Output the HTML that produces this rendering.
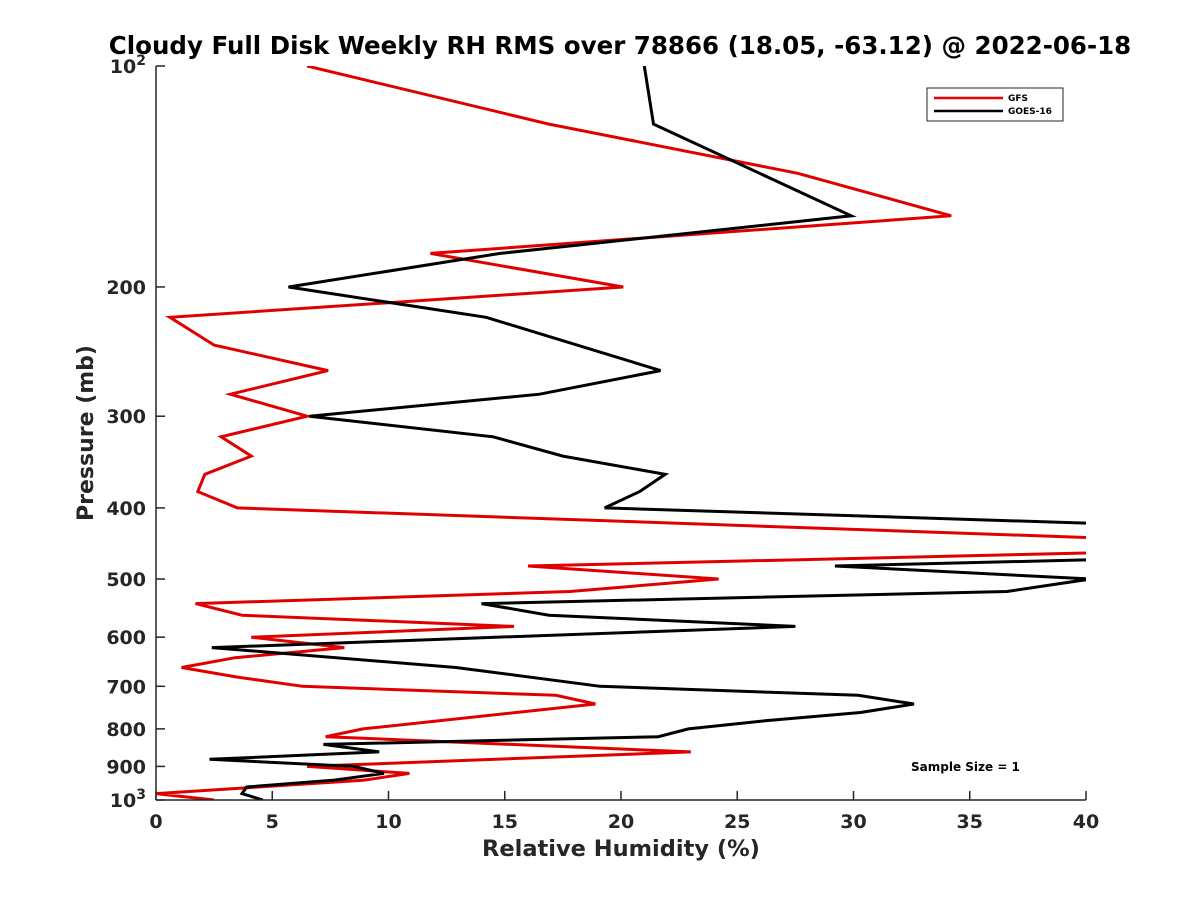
<!DOCTYPE html>
<html><head><meta charset="utf-8"><style>
body{margin:0;background:#fff}
svg{display:block;font-family:"DejaVu Sans","Liberation Sans",sans-serif}
</style></head><body>
<svg id="chart" width="1200" height="900" viewBox="0 0 1200 900">
<rect width="1200" height="900" fill="#fff"/>
<text x="620" y="54" text-anchor="middle" font-size="24.5" font-weight="bold" fill="#000">Cloudy Full Disk Weekly RH RMS over 78866 (18.05, -63.12) @ 2022-06-18</text>
<defs><clipPath id="plotclip"><rect x="156" y="66" width="930" height="734"/></clipPath></defs>
<g id="ticks"></g>
<g id="series" clip-path="url(#plotclip)"></g>
<line x1="156" y1="66" x2="156" y2="800" stroke="#262626" stroke-width="1.5"/>
<line x1="156" y1="800" x2="1086" y2="800" stroke="#262626" stroke-width="1.5"/>
<text x="621" y="856" text-anchor="middle" font-size="22.5" font-weight="bold" fill="#262626">Relative Humidity (%)</text>
<text transform="translate(93,433) rotate(-90)" text-anchor="middle" font-size="22" font-weight="bold" fill="#262626">Pressure (mb)</text>
<g>
<rect x="927" y="88" width="136" height="33" fill="#fff" stroke="#262626" stroke-width="1"/>
<line x1="934" y1="98" x2="1003" y2="98" stroke="#e00" stroke-width="2.5"/>
<text x="1008" y="101" font-size="9" font-weight="bold">GFS</text>
<line x1="934" y1="111" x2="1003" y2="111" stroke="#000" stroke-width="2.5"/>
<text x="1008" y="114" font-size="9" font-weight="bold">GOES-16</text>
</g>
<text x="911" y="771" font-size="12" font-weight="bold" fill="#000">Sample Size = 1</text>
</svg>
<script>
const xTicks=[0,5,10,15,20,25,30,35,40];
const yTicks=[100,200,300,400,500,600,700,800,900,1000];
const yTickLabels=["10^2","200","300","400","500","600","700","800","900","10^3"];
const gfsPressure=[100,120,140,160,180,200,220,240,260,280,300,320,340,360,380,400,440,460,480,500,520,540,560,580,600,620,640,660,680,700,720,740,800,820,860,900,920,940,980,1000];
const gfsRH=[6.5,16.9,27.6,34.2,11.8,20.1,0.6,2.5,7.4,3.2,6.5,2.8,4.1,2.1,1.8,3.5,41,41,16.0,24.2,17.8,1.7,3.7,15.4,4.1,8.1,3.4,1.1,3.5,6.3,17.2,18.9,8.9,7.3,23.0,6.5,10.9,8.9,0,2.5];
const goesPressure=[100,120,160,180,200,220,260,280,300,320,340,360,380,400,420,470,480,500,520,540,560,580,620,660,700,720,740,760,780,800,820,840,860,880,900,920,940,960,980,1000];
const goesRH=[21.0,21.4,29.9,14.8,5.7,14.2,21.7,16.5,6.6,14.5,17.5,21.9,20.8,19.3,40.5,41,29.2,40.2,36.6,14.0,16.9,27.5,2.4,12.9,19.1,30.2,32.6,30.3,26.2,22.9,21.6,7.2,9.6,2.3,8.5,9.8,7.6,3.9,3.7,4.6];

const X0=156,X1=1086,Y0=66,Y1=800;
const xs=v=>X0+(v-0)/40*(X1-X0);
const ys=p=>Y0+(Math.log10(p)-2)*(Y1-Y0);
const NS="http://www.w3.org/2000/svg";
const tg=document.getElementById('ticks');
xTicks.forEach(t=>{
  const l=document.createElementNS(NS,'line');
  l.setAttribute('x1',xs(t));l.setAttribute('x2',xs(t));l.setAttribute('y1',800);l.setAttribute('y2',791);
  l.setAttribute('stroke','#262626');l.setAttribute('stroke-width','1.5');
  
  
  tg.appendChild(l);
  const tx=document.createElementNS(NS,'text');
  tx.setAttribute('x',xs(t));tx.setAttribute('y',828);tx.setAttribute('text-anchor','middle');
  tx.setAttribute('font-size','19');tx.setAttribute('font-weight','bold');tx.setAttribute('fill','#262626');
  tx.textContent=t;
  
  
  tg.appendChild(tx);
});
yTicks.forEach((p,i)=>{
  const y=ys(p);
  const l=document.createElementNS(NS,'line');
  l.setAttribute('x1',156);l.setAttribute('x2',165);l.setAttribute('y1',y);l.setAttribute('y2',y);
  l.setAttribute('stroke','#262626');l.setAttribute('stroke-width','1.5');
  
  
  tg.appendChild(l);
  const tx=document.createElementNS(NS,'text');
  tx.setAttribute('x',146);tx.setAttribute('y',y+7);tx.setAttribute('text-anchor','end');
  tx.setAttribute('font-size','19');tx.setAttribute('font-weight','bold');tx.setAttribute('fill','#262626');
  const lab=yTickLabels[i];
  if(lab.indexOf('^')>=0){
    const parts=lab.split('^');
    tx.textContent=parts[0];
    const sp=document.createElementNS(NS,'tspan');
    sp.setAttribute('dy','-8');sp.setAttribute('font-size','14');
    sp.textContent=parts[1];
    tx.appendChild(sp);
  } else tx.textContent=lab;
  
  
  tg.appendChild(tx);
});
const sg=document.getElementById('series');
function drawLine(P,V,color,name){
  const pts=P.map((p,i)=>xs(V[i]).toFixed(1)+','+ys(p).toFixed(1)).join(' ');
  const pl=document.createElementNS(NS,'polyline');
  pl.setAttribute('points',pts);pl.setAttribute('fill','none');
  pl.setAttribute('stroke',color);pl.setAttribute('stroke-width','3');pl.setAttribute('stroke-linejoin','miter');
  
  
  sg.appendChild(pl);
}
drawLine(gfsPressure,gfsRH,'#e00000','gfs-line');
drawLine(goesPressure,goesRH,'#000000','goes16-line');
</script>
</body></html>
